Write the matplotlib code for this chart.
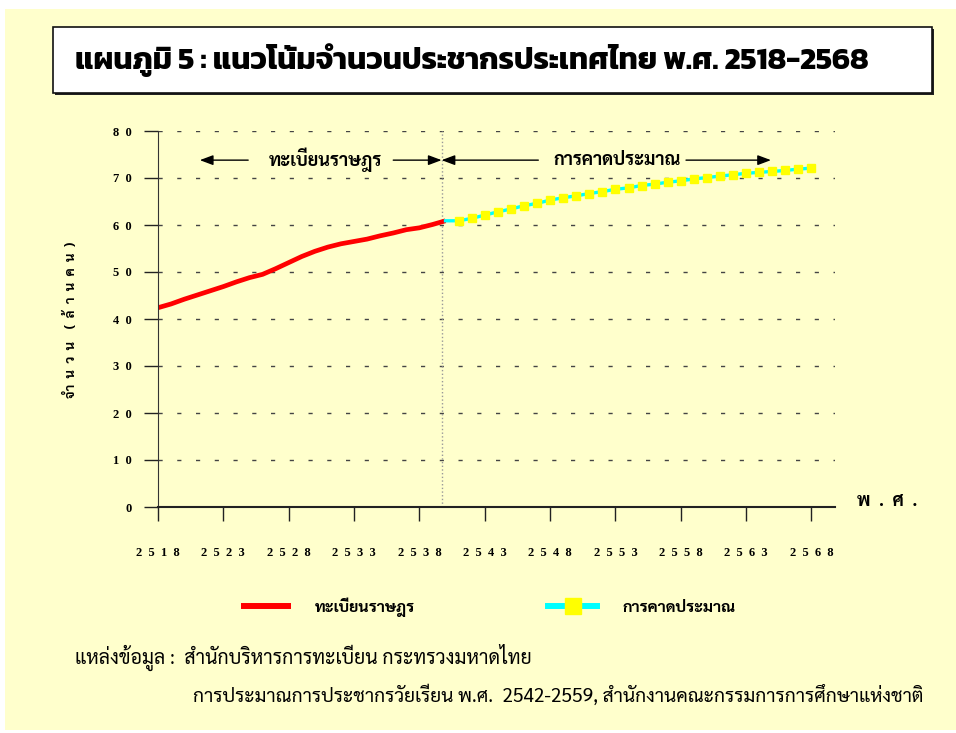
import matplotlib
matplotlib.use("Agg")
import matplotlib.pyplot as plt
from matplotlib.patches import Rectangle

# จำนวนประชากร (ล้านคน)
reg_years = list(range(2518, 2541))
reg_pop = [42.4, 43.2, 44.2, 45.1, 46.0, 46.9, 47.9, 48.8, 49.5, 50.7, 52.0, 53.3,
           54.4, 55.3, 56.0, 56.5, 57.0, 57.7, 58.3, 59.0, 59.4, 60.1, 60.9]
proj_years = list(range(2540, 2569))
proj_pop = [60.9, 60.9, 61.4, 62.1, 62.8, 63.4, 64.1, 64.6, 65.3, 65.8, 66.2, 66.7,
            67.1, 67.6, 67.9, 68.4, 68.7, 69.1, 69.4, 69.8, 70.1, 70.4, 70.7, 71.0,
            71.2, 71.4, 71.6, 71.9, 72.1]
x_ticks = list(range(2518, 2569, 5))
y_ticks = list(range(0, 81, 10))

title = "แผนภูมิ 5 : แนวโน้มจำนวนประชากรประเทศไทย พ.ศ. 2518-2568"
source1 = "แหล่งข้อมูล :  สำนักบริหารการทะเบียน กระทรวงมหาดไทย"
source2 = "การประมาณการประชากรวัยเรียน พ.ศ.  2542-2559, สำนักงานคณะกรรมการการศึกษาแห่งชาติ"

W, H = 956, 733
fig = plt.figure(figsize=(W / 100, H / 100), dpi=100, facecolor="white")

def fx(px):
    return px / W

def fy(py):
    return 1 - py / H

# yellow page background
fig.patches.append(Rectangle((fx(5), fy(730)), fx(951), 721 / H, transform=fig.transFigure,
                             facecolor="#FFFFCC", edgecolor="none", zorder=-10))
# title box with shadow
fig.patches.append(Rectangle((fx(55), fy(95)), fx(879), 66 / H, transform=fig.transFigure,
                             facecolor="#222222", edgecolor="none", zorder=-5))
fig.patches.append(Rectangle((fx(53), fy(93)), fx(879), 66 / H, transform=fig.transFigure,
                             facecolor="white", edgecolor="#111111", linewidth=1.2, zorder=-4))
fig.text(fx(75), fy(60), title, family=["Kanit", "DejaVu Sans"],
         fontweight="bold", fontsize=22, va="center", ha="left")

ax = fig.add_axes([fx(158), fy(507), fx(835 - 158), (507 - 131) / H])
ax.set_facecolor("none")
ax.set_xlim(2518, 2569.8)
ax.set_ylim(0, 80)
for s in ["top", "right"]:
    ax.spines[s].set_visible(False)
ax.spines["left"].set_color("#333333")
ax.spines["bottom"].set_color("#222222")
ax.spines["bottom"].set_linewidth(1.5)

ax.yaxis.grid(True, linestyle=(0, (3, 10.5)), color="#444444", linewidth=1)
ax.set_axisbelow(True)

ax.set_xticks(x_ticks)
ax.set_xticklabels(["  ".join(str(t)) for t in x_ticks])
ax.set_yticks(y_ticks)
ax.set_yticklabels(["  ".join(str(t)) for t in y_ticks])
ax.tick_params(axis="x", length=10, width=1, pad=19, labelsize=9, color="#222222")
ax.tick_params(axis="y", length=10, width=1, pad=9, labelsize=9, color="#222222")
for lab in ax.get_xticklabels() + ax.get_yticklabels():
    lab.set_fontfamily("Liberation Serif")
    lab.set_fontweight("bold")

ax.axvline(2539.7, color="#999999", linestyle=":", linewidth=1)

ax.plot(reg_years, reg_pop, color="#FF0000", linewidth=3.4, solid_capstyle="butt",
        label="ทะเบียนราษฎร")
ax.plot(proj_years, proj_pop, color="#00FFFF", linewidth=2.4, marker="s",
        markersize=5.5, markerfacecolor="#FFFF00", markeredgecolor="#FFFF00",
        markevery=slice(1, None), label="การคาดประมาณ")

# period annotations
thai = ["Sarabun", "DejaVu Sans"]
arrow = dict(arrowstyle="-|>,head_length=0.8,head_width=0.3", color="black", lw=1,
             shrinkA=0, shrinkB=0)
ya = 73.8
ax.annotate("", xy=(2521.2, ya), xytext=(2524.9, ya), arrowprops=arrow)
ax.annotate("", xy=(2539.7, ya), xytext=(2536.0, ya), arrowprops=arrow)
ax.text(2530.8, ya, "ทะเบียนราษฎร", family=thai, fontweight="bold", fontsize=13,
        ha="center", va="center")
ax.annotate("", xy=(2539.7, ya), xytext=(2547.1, ya), arrowprops=arrow)
ax.annotate("", xy=(2564.9, ya), xytext=(2558.4, ya), arrowprops=arrow)
ax.text(2553.1, ya, "การคาดประมาณ", family=thai, fontweight="bold", fontsize=13,
        ha="center", va="center")

ax.set_ylabel("จำ  น  ว  น    (  ล้  า  น  ค  น  )", family=thai,
              fontweight="bold", fontsize=9.5)
ax.yaxis.set_label_coords(fx(78 - 158) / fx(835 - 158), (507 - 320) / (507 - 131))

fig.text(fx(857), fy(501), "พ  .  ศ  .", family=thai,
         fontweight="bold", fontsize=13, va="center", ha="left")

leg = ax.legend(loc="center left", bbox_to_anchor=(fx(241), fy(607)),
                bbox_transform=fig.transFigure, ncol=2, frameon=False,
                prop={"family": thai, "weight": "bold", "size": 11.5},
                handlelength=3.1, handletextpad=1.55, columnspacing=8.3,
                borderpad=0, borderaxespad=0, numpoints=1)
for h in leg.legend_handles:
    h.set_linewidth(4.3)
leg.legend_handles[1].set_markersize(11.5)

fig.text(fx(75), fy(657), source1, family=thai, fontsize=14, va="center", ha="left")
fig.text(fx(193), fy(695), source2, family=thai, fontsize=13.8, va="center", ha="left")

fig.savefig("out.png", dpi=100, facecolor=fig.get_facecolor())
